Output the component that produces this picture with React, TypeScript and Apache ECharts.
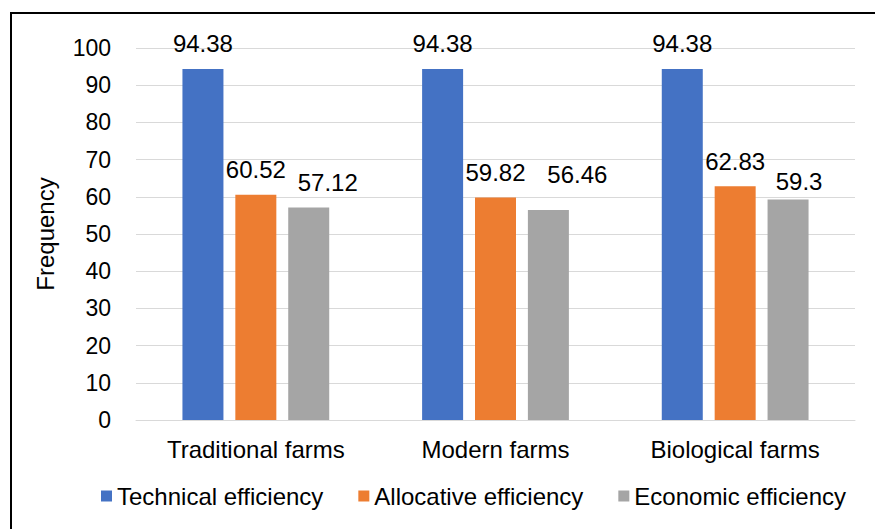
import React, { useEffect, useRef } from "react";
import * as echarts from "echarts";

const categories = ["Traditional farms", "Modern farms", "Biological farms"];
const seriesNames = ["Technical efficiency", "Allocative efficiency", "Economic efficiency"];
const technical = [94.38, 94.38, 94.38];
const allocative = [60.52, 59.82, 62.83];
const economic = [57.12, 56.46, 59.3];
const colors = ["#4472C4", "#ED7D31", "#A5A5A5"];
// manual label shifts seen in the reference (economic series only)
const economicLabelShift = [
  [19, 0],
  [29, -10],
  [11, 7],
];

export default function App() {
  const ref = useRef<HTMLDivElement>(null);
  useEffect(() => {
    document.body.style.margin = "0";
    const chart = echarts.init(ref.current!, null, { renderer: "svg" });
    const font = "'Liberation Sans', Arial, sans-serif";
    const values = [technical, allocative, economic];
    chart.setOption({
      animation: false,
      textStyle: { fontFamily: font },
      graphic: [
        {
          type: "rect",
          shape: { x: 11, y: 13, width: 900, height: 560 },
          style: { fill: "none", stroke: "#000", lineWidth: 2 },
          silent: true,
        },
      ],
      grid: { left: 136, right: 20, top: 48, bottom: 109, containLabel: false },
      legend: {
        bottom: 16,
        left: 96,
        itemWidth: 11,
        itemHeight: 11,
        itemGap: 35,
        icon: "rect",
        textStyle: { fontSize: 24, color: "#000", fontFamily: font },
        data: seriesNames,
      },
      xAxis: {
        type: "category",
        data: categories,
        axisLine: { lineStyle: { color: "#D9D9D9", width: 1 } },
        axisTick: { show: false },
        axisLabel: { fontSize: 24, color: "#000", margin: 17, fontFamily: font },
      },
      yAxis: {
        type: "value",
        min: 0,
        max: 100,
        interval: 10,
        name: "Frequency",
        nameLocation: "middle",
        nameGap: 79,
        nameTextStyle: { fontSize: 24, color: "#000", fontFamily: font },
        axisLine: { show: false },
        axisTick: { show: false },
        axisLabel: { fontSize: 23, color: "#000", margin: 25, fontFamily: font },
        splitLine: { lineStyle: { color: "#D9D9D9", width: 1 } },
      },
      series: seriesNames.map((name, i) => ({
        name,
        type: "bar",
        data: values[i].map((v, j) =>
          i === 2 ? { value: v, label: { offset: economicLabelShift[j] } } : v
        ),
        barWidth: 41,
        barGap: "29%",
        itemStyle: { color: colors[i] },
        label: {
          show: true,
          position: "top",
          distance: 13,
          fontSize: 24,
          color: "#000",
          fontFamily: font,
        },
      })),
    });
    return () => chart.dispose();
  }, []);
  return <div ref={ref} style={{ width: 875, height: 529 }} />;
}
